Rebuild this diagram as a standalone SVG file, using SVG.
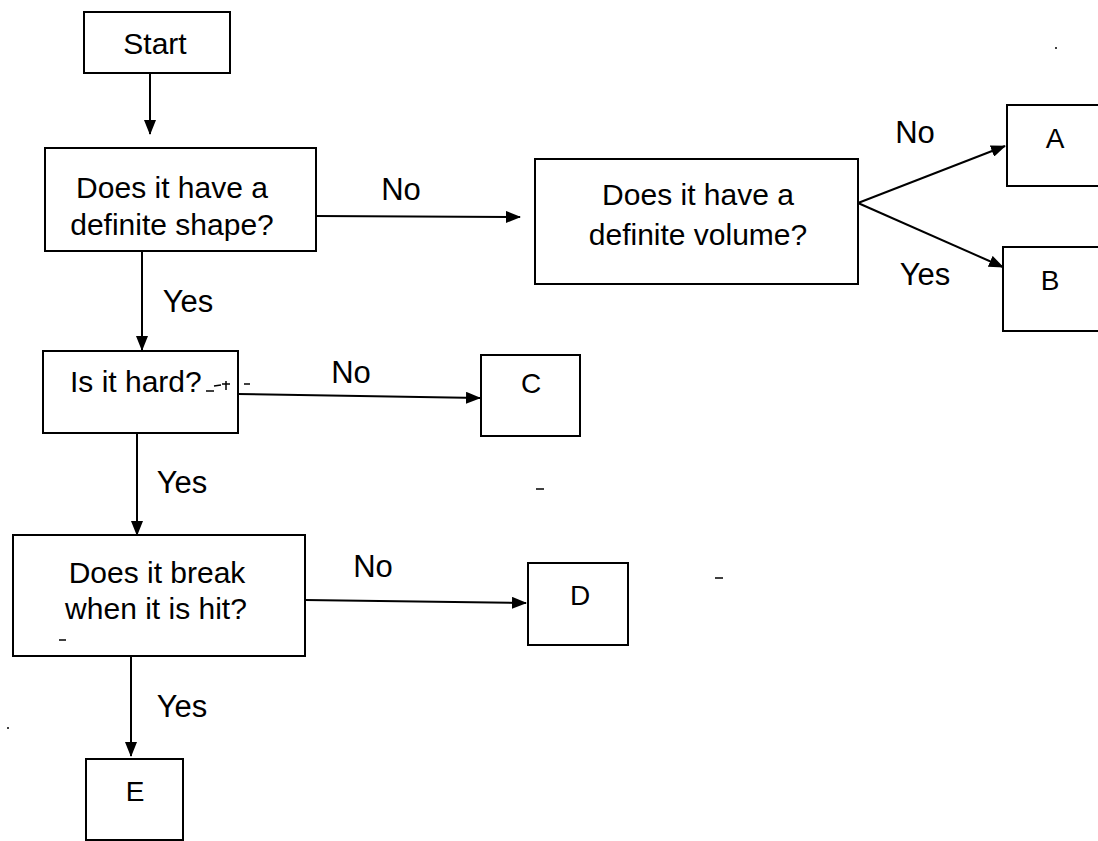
<svg xmlns="http://www.w3.org/2000/svg" width="1098" height="841" viewBox="0 0 1098 841">
<defs>
<marker id="arr" markerUnits="userSpaceOnUse" markerWidth="15" markerHeight="12" refX="14" refY="6" orient="auto">
<path d="M0,0 L15,6 L0,12 z" fill="#000"/>
</marker>
<style>
.box{fill:#fff;stroke:#000;stroke-width:2}
.t{font-family:"Liberation Sans",Arial,sans-serif;font-size:30px;fill:#000;text-anchor:middle}
.y{font-family:"Liberation Sans",Arial,sans-serif;font-size:31px;fill:#000;text-anchor:middle}
.l{font-family:"Liberation Sans",Arial,sans-serif;font-size:28px;fill:#000;text-anchor:middle}
.c{fill:none;stroke:#000;stroke-width:2;marker-end:url(#arr)}
.s{stroke:#000;stroke-width:1.5}
</style>
</defs>
<rect width="1098" height="841" fill="#fff"/>
<g id="connectors">
<line class="c" x1="150" y1="73" x2="150" y2="134"/>
<line class="c" x1="316" y1="216" x2="520" y2="217"/>
<line class="c" x1="858" y1="203" x2="1005" y2="146"/>
<line class="c" x1="858" y1="203" x2="1003" y2="267"/>
<line class="c" x1="142" y1="251" x2="142" y2="350"/>
<line class="c" x1="238" y1="394" x2="480" y2="398"/>
<line class="c" x1="137" y1="433" x2="137" y2="535"/>
<line class="c" x1="305" y1="600" x2="526" y2="603"/>
<line class="c" x1="131" y1="656" x2="131" y2="756"/>
<text class="y" x="401" y="200">No</text>
<text class="y" x="915" y="143">No</text>
<text class="y" x="925" y="285">Yes</text>
<text class="y" x="188" y="312">Yes</text>
<text class="y" x="351" y="383">No</text>
<text class="y" x="182" y="493">Yes</text>
<text class="y" x="373" y="577">No</text>
<text class="y" x="182" y="717">Yes</text>
</g>
<g id="start">
<rect class="box" x="84" y="12" width="146" height="61"/>
<text class="t" x="155" y="54">Start</text>
</g>
<g id="shape">
<rect class="box" x="45" y="148" width="271" height="103"/>
<text class="t" x="172" y="198">Does it have a</text>
<text class="t" x="172" y="235">definite shape?</text>
</g>
<g id="volume">
<rect class="box" x="535" y="159" width="323" height="125"/>
<text class="t" x="698" y="205">Does it have a</text>
<text class="t" x="698" y="245">definite volume?</text>
</g>
<g id="A">
<rect class="box" x="1007" y="105" width="100" height="81"/>
<text class="l" x="1055" y="148">A</text>
</g>
<g id="B">
<rect class="box" x="1003" y="247" width="104" height="84"/>
<text class="l" x="1050" y="290">B</text>
</g>
<g id="hard">
<rect class="box" x="43" y="351" width="195" height="82"/>
<text class="t" x="70" y="392" style="text-anchor:start">Is it hard?</text>
<line class="s" x1="206" y1="391" x2="214" y2="391"/>
<line class="s" x1="214" y1="386" x2="221" y2="385"/>
<line class="s" x1="226" y1="381" x2="226" y2="390"/>
<line class="s" x1="222" y1="384" x2="230" y2="384"/>
<line class="s" x1="244" y1="384" x2="250" y2="384"/>
</g>
<g id="C">
<rect class="box" x="481" y="355" width="99" height="81"/>
<text class="l" x="531" y="393">C</text>
</g>
<g id="break">
<rect class="box" x="13" y="535" width="292" height="121"/>
<text class="t" x="157" y="583">Does it break</text>
<text class="t" x="156" y="619">when it is hit?</text>
<line class="s" x1="59" y1="640" x2="66" y2="640"/>
</g>
<g id="D">
<rect class="box" x="528" y="563" width="100" height="82"/>
<text class="l" x="580" y="605">D</text>
</g>
<g id="E">
<rect class="box" x="86" y="759" width="97" height="81"/>
<text class="l" x="135" y="801">E</text>
</g>
<g id="specks">
<line class="s" x1="536" y1="489" x2="544" y2="489"/>
<line class="s" x1="715" y1="578" x2="723" y2="578"/>
<circle cx="1056" cy="48" r="1" fill="#000"/>
<circle cx="8" cy="728" r="1" fill="#000"/>
</g>
</svg>
